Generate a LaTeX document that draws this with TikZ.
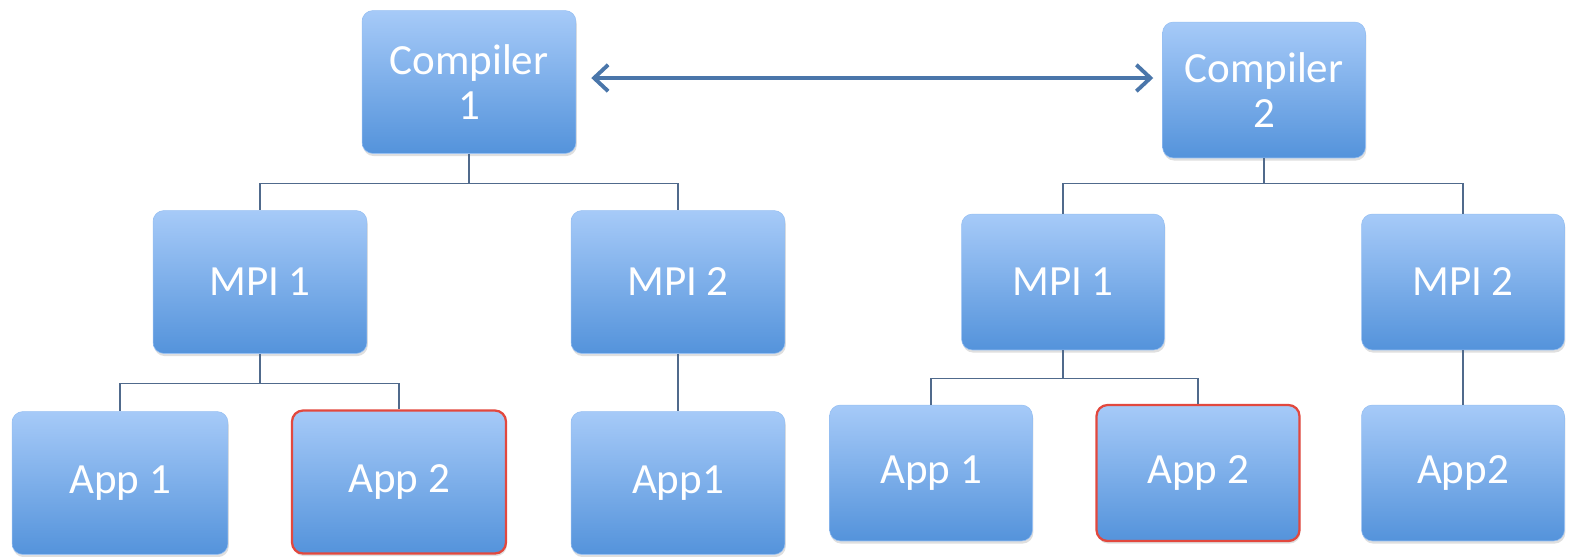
\documentclass[tikz,border=0pt]{standalone}
\usepackage{fontspec}
\setmainfont{Carlito}
\usetikzlibrary{arrows.meta,shadows}

\definecolor{boxtop}{RGB}{166,202,248}
\definecolor{boxbot}{RGB}{84,147,219}
\definecolor{linkcol}{RGB}{80,106,140}
\definecolor{arrcol}{RGB}{74,118,170}
\definecolor{hotcol}{RGB}{226,72,62}

\begin{document}
\begin{tikzpicture}[x=0.02cm,y=-0.02cm,
	box/.style={rounded corners=0.22cm, top color=boxtop, bottom color=boxbot,
		draw=boxtop!80!boxbot, line width=0.3pt, text=white, align=center,
		font=\fontsize{24.5}{26}\selectfont,
		drop shadow={opacity=0.25, shadow xshift=0.5pt, shadow yshift=-1.5pt}},
	boxL/.style={box, minimum width=4.28cm, minimum height=2.86cm},
	boxR/.style={box, minimum width=4.06cm, minimum height=2.72cm},
	hot/.style={draw=hotcol, line width=1.3pt},
	link/.style={draw=linkcol, line width=0.7pt}]
				\useasboundingbox (0,0) rectangle (1570,556);
				% first compiler tree
				\node[boxL] (c1) at(469,82){Compiler\\1};
				\node[boxL] (m11) at(260,282){MPI 1};
				\node[boxL] (m12) at(678,282){MPI 2};
				\node[boxL, minimum width=4.32cm] (a11) at(120,483){App 1};
				\node[boxL, hot] (a12) at(399,482){App 2};
				\node[boxL] (a13) at(678,483){App1};
				% second compiler tree
				\node[boxR] (c2) at(1264,90){Compiler\\2};
				\node[boxR] (m21) at(1063,282){MPI 1};
				\node[boxR] (m22) at(1463,282){MPI 2};
				\node[boxR] (a21) at(931,473){App 1};
				\node[boxR, hot] (a22) at(1198,473){App 2};
				\node[boxR] (a23) at(1463,473){App2};
				\draw[link] (c1.south) -- ++(0,30) -| (m11.north);
				\draw[link] (c1.south) -- ++(0,30) -| (m12.north);
				\draw[link] (m11.south) -- ++(0,30) -| (a11.north);
				\draw[link] (m11.south) -- ++(0,30) -| (a12.north);
				\draw[link] (m12) -- (a13);
				\draw[link] (c2.south) -- ++(0,25) -| (m21.north);
				\draw[link] (c2.south) -- ++(0,25) -| (m22.north);
				\draw[link] (m21.south) -- ++(0,28) -| (a21.north);
				\draw[link] (m21.south) -- ++(0,28) -| (a22.north);
				\draw[link] (m22) -- (a23);
				\draw[arrcol, line width=2.2pt, {Straight Barb[length=8pt,width=15pt]}-{Straight Barb[length=8pt,width=15pt]}]
					([xshift=0.3cm,yshift=0.08cm]c1.east) -- ([xshift=-0.18cm,yshift=0.24cm]c2.west);
			\end{tikzpicture}
\end{document}
